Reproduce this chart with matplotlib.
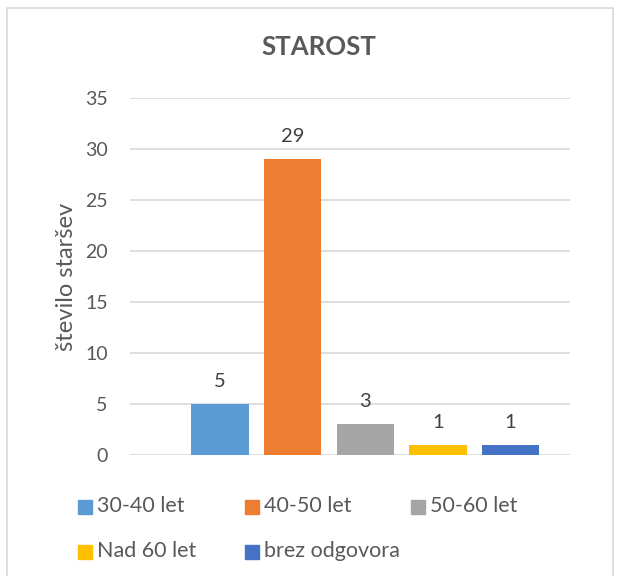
import matplotlib
matplotlib.use("Agg")
import matplotlib.pyplot as plt
from matplotlib.patches import Rectangle

plt.rcParams["font.family"] = ["Lato", "DejaVu Sans"]

categories = ["30-40 let", "40-50 let", "50-60 let", "Nad 60 let", "brez odgovora"]
values = [5, 29, 3, 1, 1]
colors = ["#5b9bd5", "#ed7d31", "#a5a5a5", "#ffc000", "#4472c4"]
yticks = [0, 5, 10, 15, 20, 25, 30, 35]

TXT = "#595959"
W, H = 619, 576

fig = plt.figure(figsize=(W / 100, H / 100), dpi=100)
ax = fig.add_axes([130 / W, 1 - 455 / H, 440 / W, 357 / H])

xs = range(len(values))
ax.bar(xs, values, width=0.79, color=colors, zorder=3)
for x, v in zip(xs, values):
    ax.text(x, v + 1.4, str(v), ha="center", va="bottom", fontsize=14.5, color="#404040")

ax.set_xlim(-1.24, 4.82)
ax.set_ylim(0, 35)
ax.set_yticks(yticks)
ax.set_xticks([])
ax.yaxis.grid(True, color="#d9d9d9", linewidth=1.2, zorder=0)
for s in ax.spines.values():
    s.set_visible(False)
ax.tick_params(axis="y", length=0, pad=16, labelsize=14, labelcolor=TXT)
ax.set_ylabel("število staršev", fontsize=17, color=TXT, labelpad=6)

fig.text(319 / W, 1 - 47 / H, "STAROST", ha="center", va="center",
         fontsize=18.5, fontweight="bold", color=TXT)

# legend laid out like Excel: equal-width columns, filled row by row
for i, (lab, c) in enumerate(zip(categories, colors)):
    col, row = i % 3, i // 3
    x0 = 78 + 166.5 * col
    yc = 506 + 45 * row
    fig.patches.append(Rectangle((x0 / W, 1 - (yc + 7.5) / H), 14 / W, 14 / H,
                                 transform=fig.transFigure, color=c))
    fig.text((x0 + 19) / W, 1 - yc / H, lab, ha="left", va="center",
             fontsize=15.5, color=TXT)

fig.patches.append(Rectangle((7 / W, -0.01), 606 / W, 1 - 8 / H + 0.01,
                             transform=fig.transFigure, fill=False,
                             edgecolor="#d9d9d9", linewidth=1.2))

fig.savefig("out.png", dpi=100)
